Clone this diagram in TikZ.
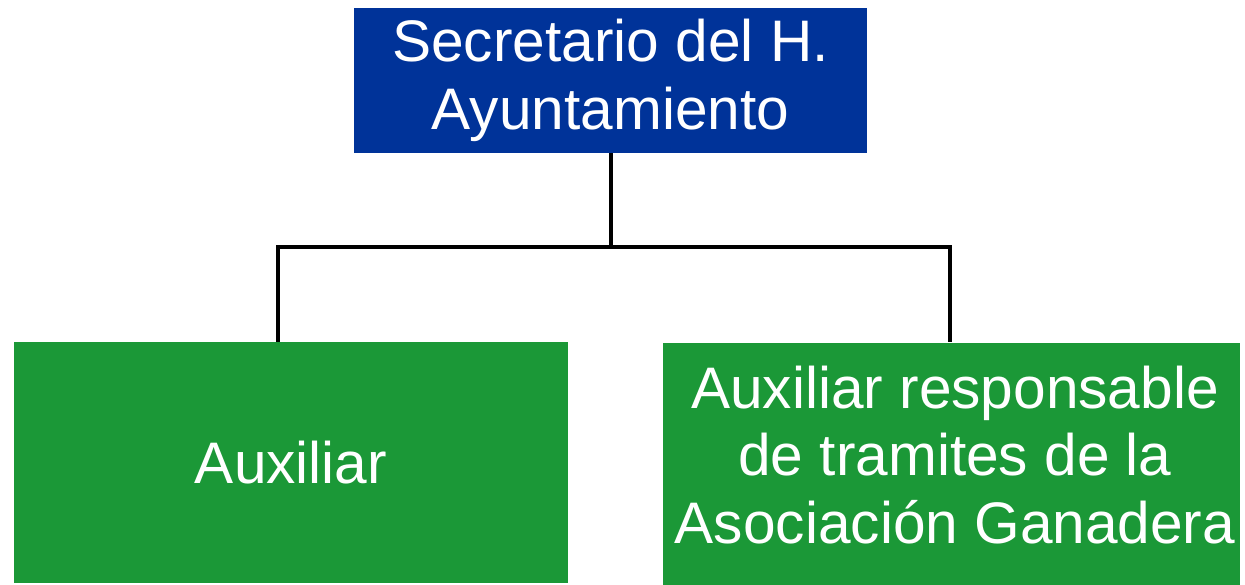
\documentclass[tikz,border=0pt]{standalone}
\usepackage{fontspec}
\setmainfont{Liberation Sans}
\definecolor{jefeblue}{RGB}{0,51,153}
\definecolor{auxgreen}{RGB}{27,152,55}
\tikzset{
  cargo/.style={inner sep=0pt, text=white, align=center, font=\fontsize{29.3}{33.75}\selectfont},
  liga/.style={line width=2pt, black}
}
\begin{document}
\begin{tikzpicture}[x=0.5pt, y=-0.5pt]
\useasboundingbox (0,0) rectangle (1245,584);
\node[cargo, fill=jefeblue, minimum width=256.5pt, minimum height=72.5pt] (sec) at (610.5,80.5){Secretario del H.\\Ayuntamiento};
\node[cargo, fill=auxgreen, minimum width=277pt, minimum height=120.5pt] (aux) at (291,462.5){Auxiliar};
\node[cargo, fill=auxgreen, minimum width=288.5pt, minimum height=121pt] (resp) at (951.5,463.5){};
\node[cargo] (resptext) at (955,455){Auxiliar responsable\\de tramites de la\\Asociación Ganadera};
\coordinate (barL) at (278,246.5);
\coordinate (barR) at (950,246.5);
\draw[liga](sec.south) -- (sec.south |- barL);
\draw[liga, line cap=rect](barL) -- (barR);
\draw[liga](barL) -- (barL |- aux.north);
\draw[liga](barR) -- (barR |- resp.north);
\end{tikzpicture}
\end{document}
